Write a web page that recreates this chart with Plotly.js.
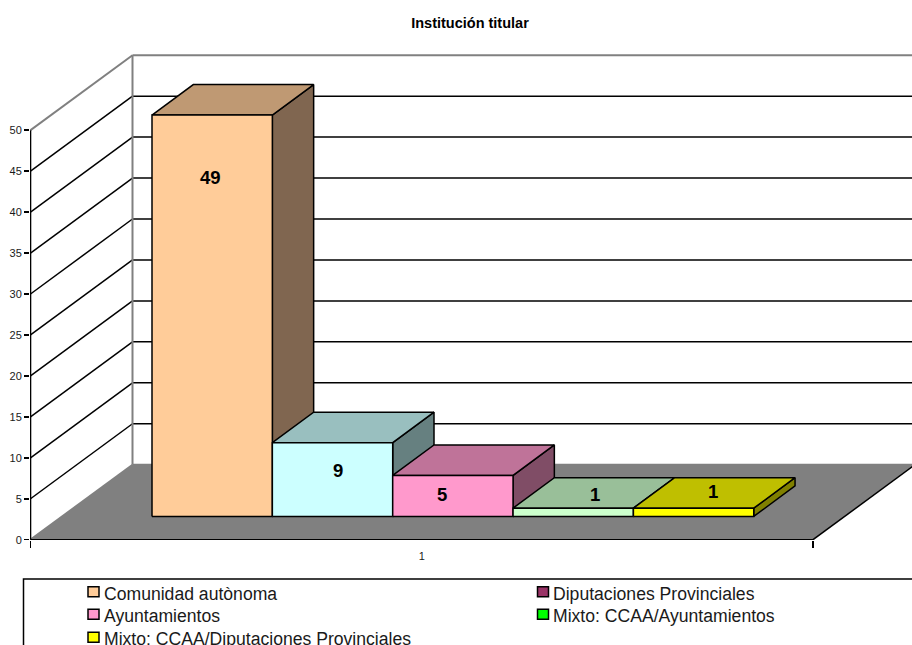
<!DOCTYPE html>
<html>
<head>
<meta charset="utf-8">
<script src="https://cdn.plot.ly/plotly-3.0.1.min.js"></script>
<style>html,body{margin:0;padding:0;background:#fff;overflow:hidden}#chart{width:912px;height:645px}</style>
</head>
<body>
<div id="chart"></div>
<script>
// ---- data ----
const titleText = "Institución titular";
const categoryLabel = "1";
const barValues = [49, 9, 5, 1, 1];
const barFront = ["#FFCC99", "#CCFFFF", "#FF99CC", "#CCFFCC", "#FFFF00"];
const barTop = ["#BF9973", "#99BFBF", "#BF7399", "#99BF99", "#BFBF00"];
const barSide = ["#806650", "#668080", "#804D66", "#668066", "#808000"];
const legendNames = ["Comunidad autònoma", "Diputaciones Provinciales", "Ayuntamientos", "Mixto: CCAA/Ayuntamientos", "Mixto: CCAA/Diputaciones Provinciales"];
const legendColors = ["#FFCC99", "#993366", "#FF99CC", "#00FF00", "#FFFF00"];
const yTicks = [0, 5, 10, 15, 20, 25, 30, 35, 40, 45, 50];

// ---- scale and geometry constants ----
const W = 912, H = 645, mL = 30, mT = 40, mB = 105;
const pxPerBar = 120.35, pxPerUnit = 8.19;
const x0px = 0.5, y0px = 0.3;                 // axis zero offset inside plot box
const floorW = 782.5 / pxPerBar;              // width of the front floor edge
const wallDX = 102 / pxPerBar, wallDY = 75 / pxPerUnit;
const barX0 = 121.5 / pxPerBar, barBase = 23.3 / pxPerUnit;
const depthX = 41.3 / pxPerBar, depthY = 30.5 / pxPerUnit;
const labelDX = [-2, 5, -11, 22, 19], labelDY = [62, 28, 19, -14, -17];

const plotW = W - mL, plotH = H - mT - mB;
const xRange = [-x0px / pxPerBar, (plotW - x0px) / pxPerBar];
const yRange = [-y0px / pxPerUnit, (plotH - y0px) / pxPerUnit];
const sans = '"Liberation Sans", Arial, sans-serif';

const shapes = [];
function seg(x0, y0, x1, y1, color, width) {
  shapes.push({type: "line", xref: "x", yref: "y", layer: "below", x0, y0, x1, y1, line: {color, width}});
}
// floor
shapes.push({type: "path", xref: "x", yref: "y", layer: "below", line: {width: 0},
  fillcolor: "#808080",
  path: `M0,0 L${floorW},0 L${floorW + wallDX},${wallDY} L${wallDX},${wallDY} Z`});
// grid on side and back walls
const maxTick = yTicks[yTicks.length - 1];
const farX = xRange[1] + 1;
yTicks.forEach(v => {
  const edge = (v === 0 || v === maxTick);
  const col = edge ? "#808080" : "#000000";
  const w = edge ? 2 : 1.5;
  seg(0, v, wallDX, v + wallDY, col, w);
  seg(wallDX, v + wallDY, farX, v + wallDY, col, w);
});
seg(wallDX, wallDY, wallDX, maxTick + wallDY, "#808080", 2);
seg(floorW, 0, floorW + wallDX, wallDY, "#000000", 1.5);
seg(0, 0, floorW, 0, "#000000", 1.6);
seg(0, 0, 0, maxTick, "#000000", 1.6);

// bars: side, top, front, left to right, all derived from barValues
const traces = [];
function poly(xs, ys, fill, name) {
  traces.push({type: "scatter", mode: "lines", x: xs, y: ys, fill: "toself", fillcolor: fill,
    line: {color: "#000000", width: 1.5, shape: "linear"}, cliponaxis: true,
    name, showlegend: false, hoverinfo: "skip"});
}
const annotations = [];
barValues.forEach((v, i) => {
  const l = barX0 + i, r = l + 1, b = barBase, t = barBase + v;
  poly([r, r + depthX, r + depthX, r, r], [b, b + depthY, t + depthY, t, b], barSide[i], legendNames[i] + " side");
  poly([l, l + depthX, r + depthX, r, l], [t, t + depthY, t + depthY, t, t], barTop[i], legendNames[i] + " top");
  poly([l, r, r, l, l], [b, b, t, t, b], barFront[i], legendNames[i]);
  annotations.push({xref: "x", yref: "y", x: (l + r) / 2, y: t, text: "<b>" + v + "</b>", showarrow: false,
    xanchor: "center", yanchor: "middle", xshift: labelDX[i], yshift: -labelDY[i],
    font: {family: sans, size: 18.5, color: "#000000"}});
});

// legend, clipped by the bottom and right of the page as in the original
const px = p => (p - mL) / plotW, py = p => (mT + plotH - p) / plotH;
shapes.push({type: "rect", xref: "paper", yref: "paper", layer: "above",
  x0: px(23.5), x1: px(960), y0: py(579), y1: py(680), line: {color: "#000000", width: 1.5}, fillcolor: "rgba(0,0,0,0)"});
const colX = [88, 537.5], rowY = [591.7, 614.3, 637.3];
legendNames.forEach((name, i) => {
  const c = i % 2, r = Math.floor(i / 2);
  shapes.push({type: "rect", xref: "paper", yref: "paper", layer: "above",
    x0: px(colX[c]), x1: px(colX[c] + 11), y0: py(rowY[r] - 5), y1: py(rowY[r] + 5),
    line: {color: "#000000", width: 1.5}, fillcolor: legendColors[i]});
  annotations.push({xref: "paper", yref: "paper", x: px(colX[c] + 13.5), y: py(rowY[r] + 2), text: name, showarrow: false,
    xanchor: "left", yanchor: "middle", font: {family: sans, size: 17.6, color: "#1a1a1a"}});
});

const layout = {
  width: W, height: H,
  margin: {l: mL, r: 0, t: mT, b: mB, pad: 0},
  paper_bgcolor: "#ffffff", plot_bgcolor: "#ffffff",
  showlegend: false,
  title: {text: "<b>" + titleText + "</b>", x: 470 / W, xref: "container", xanchor: "center", y: 1 - 23 / H, yref: "container", yanchor: "middle",
    font: {family: sans, size: 14.5, color: "#000000"}},
  xaxis: {range: xRange, fixedrange: true, showgrid: false, zeroline: false, showline: false,
    tickmode: "array", tickvals: [floorW / 2], ticktext: [categoryLabel], ticks: "", ticklen: 0, ticklabelstandoff: 8,
    tickfont: {family: sans, size: 11, color: "#1a1a1a"},
    minor: {tickmode: "array", tickvals: [0, floorW], ticks: "outside", ticklen: 7, tickwidth: 1.5, tickcolor: "#000000", showgrid: false}},
  yaxis: {range: yRange, fixedrange: true, showgrid: false, zeroline: false, showline: false,
    tickmode: "array", tickvals: yTicks, ticktext: yTicks.map(String), ticks: "outside", ticklen: 5, tickwidth: 1.5, tickcolor: "#000000",
    tickfont: {family: sans, size: 11, color: "#1a1a1a"}},
  shapes, annotations
};
Plotly.newPlot("chart", traces, layout, {displayModeBar: false, staticPlot: true, responsive: false});
</script>
</body>
</html>
